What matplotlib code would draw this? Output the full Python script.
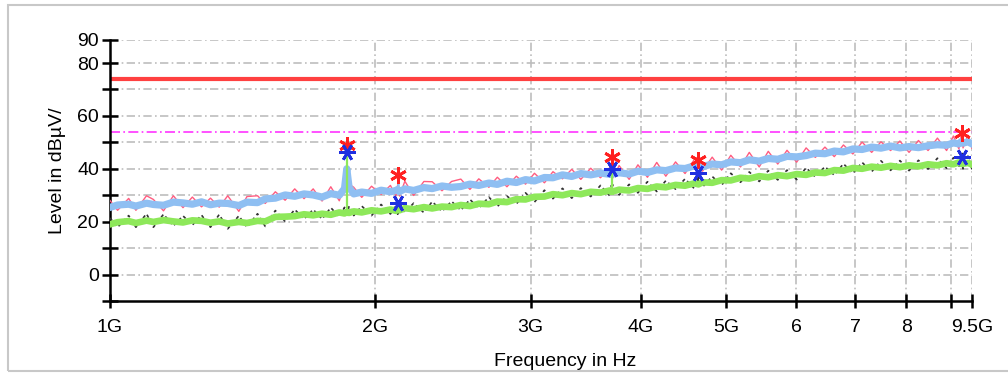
import matplotlib
matplotlib.use("Agg")
import matplotlib.pyplot as plt
from matplotlib.patches import Rectangle
import numpy as np

# ---------------- data ----------------
freq_ghz = [
    1.00, 1.02, 1.05, 1.07, 1.10, 1.12, 1.15, 1.18, 1.21, 1.24,
    1.27, 1.30, 1.33, 1.36, 1.40, 1.43, 1.47, 1.50, 1.54, 1.58,
    1.62, 1.66, 1.70, 1.74, 1.78, 1.82, 1.845, 1.856, 1.867, 1.89,
    1.93, 1.98, 2.03, 2.08, 2.11, 2.12, 2.13, 2.16, 2.21, 2.27,
    2.32, 2.38, 2.44, 2.50, 2.56, 2.62, 2.69, 2.75, 2.82, 2.89,
    2.96, 3.03, 3.11, 3.18, 3.26, 3.34, 3.42, 3.51, 3.60, 3.69,
    3.705, 3.71, 3.715, 3.78, 3.88, 3.97, 4.07, 4.17, 4.27, 4.38,
    4.49, 4.60, 4.65, 4.70, 4.82, 4.94, 5.06, 5.19, 5.31, 5.45,
    5.58, 5.72, 5.86, 6.01, 6.16, 6.31, 6.47, 6.63, 6.79, 6.96,
    7.13, 7.31, 7.49, 7.68, 7.87, 8.06, 8.26, 8.47, 8.68, 8.89,
    9.05, 9.18, 9.24, 9.26, 9.28, 9.40, 9.50,
]

# peak trace (pink)
peak_trace = [
    28.0, 24.3, 28.8, 24.3, 29.8, 28.4, 24.1, 29.8, 25.3, 29.3,
    25.6, 28.9, 25.5, 29.8, 23.9, 29.5, 29.8, 26.9, 31.3, 28.1,
    32.4, 28.7, 32.4, 27.8, 33.2, 27.9, 34.0, 41.0, 34.2, 33.0,
    29.2, 33.4, 30.3, 33.7, 29.7, 34.0, 29.7, 35.3, 29.9, 35.2,
    35.1, 31.7, 35.2, 36.1, 32.2, 36.2, 33.0, 36.8, 33.2, 37.2,
    34.2, 38.3, 34.7, 38.9, 36.2, 39.8, 36.0, 40.2, 36.6, 40.5,
    37.1, 40.5, 36.4, 41.2, 36.0, 41.5, 36.8, 42.4, 37.2, 42.6,
    38.2, 43.5, 44.4, 39.1, 44.4, 39.5, 45.1, 40.7, 46.2, 40.7,
    46.6, 41.8, 47.0, 42.5, 47.9, 44.3, 48.2, 44.6, 49.0, 45.6,
    50.1, 46.2, 50.2, 46.9, 50.5, 46.2, 50.7, 46.9, 51.6, 46.9,
    52.4, 47.5, 52.7, 52.1, 47.9, 52.7, 47.7,
]

# peak trace, second sweep (light blue)
peak_trace_b = [
    25.4, 26.3, 26.6, 25.9, 27.0, 26.5, 26.2, 27.4, 27.1, 26.6,
    27.5, 26.4, 27.0, 26.9, 26.1, 27.4, 27.2, 28.6, 28.9, 30.1,
    29.6, 30.5, 30.1, 29.3, 30.6, 30.0, 32.5, 40.0, 33.0, 30.5,
    31.2, 30.7, 31.9, 31.3, 31.8, 32.2, 31.4, 32.4, 31.8, 32.9,
    32.5, 33.5, 33.0, 33.3, 34.2, 33.7, 34.6, 34.1, 35.3, 34.8,
    35.9, 35.4, 36.7, 36.6, 37.7, 37.1, 38.2, 37.7, 38.4, 37.9,
    38.6, 39.3, 38.0, 38.5, 38.0, 39.1, 38.6, 39.6, 39.3, 40.3,
    40.1, 41.1, 41.4, 40.8, 41.8, 41.5, 42.6, 42.3, 43.4, 42.9,
    43.9, 43.6, 44.7, 44.5, 45.0, 45.9, 45.7, 46.7, 46.4, 47.5,
    47.3, 48.2, 47.8, 48.6, 47.9, 48.4, 48.0, 48.7, 49.1, 48.9,
    49.8, 49.4, 50.3, 50.1, 49.7, 50.2, 49.4,
]

# average trace (black dashed)
avg_trace = [
    21.4, 17.9, 22.3, 17.9, 23.0, 17.9, 22.8, 18.4, 22.2, 18.7,
    22.5, 17.9, 22.7, 17.3, 22.2, 17.9, 23.0, 18.2, 24.2, 20.1,
    24.6, 21.0, 24.6, 21.0, 25.3, 21.8, 25.4, 21.8, 25.9, 22.3,
    25.9, 22.3, 26.5, 22.9, 26.3, 22.8, 27.1, 23.5, 27.0, 23.4,
    27.6, 23.9, 27.7, 24.3, 28.4, 25.1, 29.3, 25.7, 29.7, 26.7,
    30.9, 27.4, 31.9, 28.7, 32.6, 28.9, 32.7, 29.5, 33.7, 29.7,
    33.7, 29.9, 34.0, 30.1, 34.1, 30.9, 35.1, 31.4, 35.5, 32.3,
    36.2, 32.5, 37.9, 33.1, 37.1, 33.8, 38.3, 34.9, 38.8, 35.2,
    39.3, 35.8, 39.5, 35.9, 40.4, 36.9, 40.8, 37.6, 41.9, 38.3,
    42.4, 38.9, 43.0, 39.4, 43.1, 39.3, 43.2, 39.9, 44.0, 40.2,
    44.2, 40.6, 44.2, 45.8, 40.0, 44.8, 39.8,
]

# average trace, second sweep (green)
avg_trace_g = [
    19.0, 19.8, 20.2, 19.5, 20.4, 19.9, 20.6, 20.1, 19.7, 20.5,
    20.3, 19.6, 20.1, 19.3, 19.9, 19.5, 20.3, 20.1, 21.8, 21.9,
    22.1, 22.8, 22.4, 23.0, 22.6, 23.5, 23.1, 23.7, 23.3, 23.9,
    23.5, 24.3, 23.9, 24.6, 24.1, 24.7, 24.3, 25.1, 24.7, 25.5,
    25.0, 25.7, 25.5, 26.3, 25.9, 26.8, 26.6, 27.6, 27.4, 28.5,
    28.4, 29.4, 29.5, 30.4, 30.0, 30.8, 30.4, 31.3, 31.0, 31.8,
    31.3, 31.6, 31.4, 32.1, 31.8, 32.7, 32.4, 33.3, 33.0, 33.9,
    33.6, 34.5, 34.1, 34.9, 34.7, 35.7, 35.6, 36.6, 36.3, 37.2,
    36.8, 37.6, 37.2, 38.0, 37.7, 38.6, 38.4, 39.5, 39.3, 40.3,
    40.0, 40.8, 40.4, 41.1, 40.6, 41.3, 40.9, 41.7, 41.3, 42.1,
    41.7, 42.4, 41.8, 42.3, 41.9, 42.2, 41.6,
]

# narrow single-bin spikes (frequency, trace level, spike top)
green_spike_f = [1.856, 2.12, 3.71]
green_spike_lo = [23.7, 24.7, 31.6]
green_spike_hi = [46.0, 27.0, 40.0]
blue_spike_f = [2.12]
blue_spike_lo = [32.2]
blue_spike_hi = [37.0]
black_spike_f = [4.65, 9.26]
black_spike_lo = [33.5, 41.5]
black_spike_hi = [38.0, 45.5]

# final measurement markers
peak_mark_f = [1.856, 2.12, 3.71, 4.65, 9.26]
peak_mark_v = [49.1, 37.7, 44.5, 43.4, 53.6]
avg_mark_f = [1.856, 2.12, 3.71, 4.65, 9.26]
avg_mark_v = [46.4, 27.2, 40.0, 38.5, 44.5]

# limit lines
peak_limit = 74
avg_limit = 54

x_ticks = [1, 2, 3, 4, 5, 6, 7, 8, 9, 9.5]
x_tick_labels = ["1G", "2G", "3G", "4G", "5G", "6", "7", "8", "", "9.5G"]
y_ticks = [-10, 0, 10, 20, 30, 40, 50, 60, 70, 80, 88.7]
y_tick_labels = ["", "0", "", "20", "", "40", "", "60", "", "80", "90"]

# ---------------- plot ----------------
plt.rcParams['font.family'] = ['Liberation Sans', 'DejaVu Sans']

W, H = 1008, 374
fig = plt.figure(figsize=(W / 100, H / 100), dpi=100)
ax = fig.add_axes([110 / W, 1 - 301 / H, (972 - 110) / W, (301 - 40) / H])

# figure frame
fig.patches.append(Rectangle((8 / W, 3 / H), 1.2, (371 - 5) / H,
                             transform=fig.transFigure, fill=False,
                             edgecolor="#c8c8c8", linewidth=1.5))

G = 1e9
f = np.array(freq_ghz) * G
grid_ls = (0, (5, 2, 1, 2))
for yv in y_ticks[1:]:
    ax.axhline(yv, color="#bdbdbd", lw=1.2, ls=grid_ls, zorder=1)
for xv in x_ticks[1:]:
    ax.axvline(xv * G, color="#bdbdbd", lw=1.2, ls=grid_ls, zorder=1)

ax.axhline(peak_limit, color="#ff4040", lw=3, zorder=2)
ax.axhline(avg_limit, color="#ff33ff", lw=1.2, ls=(0, (6, 2, 1, 2)), zorder=2)

ax.plot(f, peak_trace, color="#ff5c80", lw=1.0, zorder=3)
ax.vlines(np.array(blue_spike_f) * G, blue_spike_lo, blue_spike_hi,
          color="#8fbff2", lw=1.8, zorder=4)
ax.plot(f, peak_trace_b, color="#8fbff2", lw=5.2, zorder=4,
        solid_joinstyle="round")
ax.plot(f, avg_trace, color="#333333", lw=1.2, ls=(0, (2, 2)), zorder=5)
ax.vlines(np.array(black_spike_f) * G, black_spike_lo, black_spike_hi,
          color="#333333", lw=1.5, zorder=5)
ax.plot(f, avg_trace_g, color="#8ee85a", lw=4.8, zorder=6,
        solid_joinstyle="round")
ax.vlines(np.array(green_spike_f) * G, green_spike_lo, green_spike_hi,
          color="#8ee85a", lw=1.6, zorder=6)

ax.plot(np.array(peak_mark_f) * G, peak_mark_v, ls="none",
        marker=(6, 2, 0), ms=12, mew=2, color="#ff2020", zorder=8)
ax.plot(np.array(avg_mark_f) * G, avg_mark_v, ls="none",
        marker=(6, 2, 90), ms=12, mew=2, color="#1f2fe0", zorder=8)

ax.set_xscale("log")
ax.set_xlim(1 * G, 9.5 * G)
ax.set_ylim(-10, 88.7)
ax.set_xticks([v * G for v in x_ticks])
ax.set_xticklabels(x_tick_labels)
ax.xaxis.set_minor_locator(matplotlib.ticker.NullLocator())
ax.set_yticks(y_ticks)
ax.set_yticklabels(y_tick_labels)

for s in ["top", "right"]:
    ax.spines[s].set_visible(False)
for s in ["left", "bottom"]:
    ax.spines[s].set_linewidth(1.8)
    ax.spines[s].set_color("black")

ax.tick_params(axis="y", direction="inout", length=12, width=1.8,
               labelsize=14, pad=2)
ax.tick_params(axis="x", direction="inout", length=10, width=1.8,
               labelsize=14, pad=8)

ax.set_ylabel("Level in dBµV/", fontsize=14, labelpad=8)
fig.text(565 / W, 1 - 361 / H, "Frequency in Hz", fontsize=14,
         ha="center", va="center")

fig.savefig("out.png", dpi=100)
